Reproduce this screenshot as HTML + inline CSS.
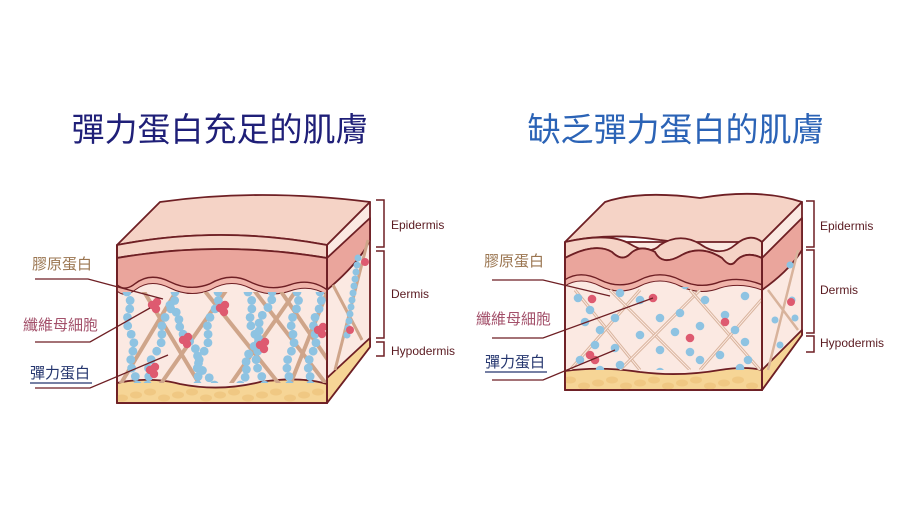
<!DOCTYPE html>
<html><head><meta charset="utf-8"><style>
html,body{margin:0;padding:0;background:#fff;}
svg{display:block;}
text{font-family:"Liberation Sans","Noto Sans CJK TC",sans-serif;}
</style></head><body>
<svg id="s" width="900" height="506" viewBox="0 0 900 506" xmlns="http://www.w3.org/2000/svg">
<rect width="900" height="506" fill="#fff"/>
<text x="220" y="141" font-size="33" fill="#1f1f78" text-anchor="middle" style="font-family:'Noto Sans CJK TC',sans-serif">彈力蛋白充足的肌膚</text>
<text x="676" y="141" font-size="33" fill="#2b63b6" text-anchor="middle" style="font-family:'Noto Sans CJK TC',sans-serif">缺乏彈力蛋白的肌膚</text>

<!-- LEFT BLOCK -->
<g stroke="#6e1f24" stroke-width="1.8" stroke-linejoin="round">
 <path d="M117 245 L160 202 Q260 188 370 202 L327 245 Q220 225 117 245Z" fill="#f5d3c6"/>
 <path d="M327 245 L370 202 L370 347 L327 403Z" fill="#fbe9e2"/>
 <path d="M327 258 L370 218 L370 240 Q360 262 327 290Z" fill="#eaa59c"/>
 <path d="M327 378 L370 338 L370 347 L327 403Z" fill="#f6d596"/>
 <rect x="117" y="245" width="210" height="158" fill="#fbe9e2"/>
 <path d="M117 245 Q220 225 327 245 L327 258 Q220 240 117 258Z" fill="#f5d3c6"/>
 <path d="M117 258 Q220 240 327 258 L327 290 Q310 278 290 285 Q270 292 250 282 Q230 272 210 284 Q190 292 170 282 Q150 272 135 284 Q125 292 117 285Z" fill="#eaa59c"/>
 <path d="M117 285 Q125 292 135 284 Q150 272 170 282 Q190 292 210 284 Q230 272 250 282 Q270 292 290 285 Q310 278 327 290 L327 295 Q310 284 290 291 Q270 298 250 288 Q230 278 210 290 Q190 298 170 288 Q150 278 135 290 Q125 298 117 291Z" fill="#f0b4aa" stroke-width="1"/>
 <path d="M117 383 Q150 376 180 384 Q220 392 260 382 Q300 376 327 384 L327 403 L117 403Z" fill="#f6d596"/>
</g>
<g id="Ldots"></g>
<g stroke="#6e1f24" stroke-width="1.8" fill="none"><path d="M117 245 L117 403 L327 403 L327 245"/></g>

<!-- RIGHT BLOCK -->
<g stroke="#6e1f24" stroke-width="1.8" stroke-linejoin="round">
 <path d="M565 242 L605 202 Q640 190 700 198 Q760 188 802 202 L762 242 Q700 245 660 240 Q610 232 565 242Z" fill="#f5d3c6"/>
 <path d="M762 242 L802 202 L802 335 L762 390Z" fill="#fbe9e2"/>
 <path d="M762 258 L802 218 L802 250 Q790 270 762 290Z" fill="#eaa59c"/>
 <path d="M762 370 L802 330 L802 335 L762 390Z" fill="#f6d596"/>
 <rect x="565" y="242" width="197" height="148" fill="#fbe9e2"/>
 <path d="M565 242 Q610 232 630 244 Q650 256 660 245 Q680 232 700 244 Q720 258 735 245 Q750 232 762 242 L762 258 Q745 250 735 262 Q730 268 722 258 Q700 244 680 256 Q662 266 655 252 Q640 244 630 254 Q622 262 612 252 Q595 242 565 258Z" fill="#f5d3c6"/>
 <path d="M565 258 Q595 242 612 252 Q622 262 630 254 Q640 244 655 252 Q662 266 680 256 Q700 244 722 258 Q730 268 735 262 Q745 250 762 258 L762 285 Q740 276 720 282 Q700 290 680 280 Q660 270 640 280 Q620 290 600 280 Q580 270 565 280Z" fill="#eaa59c"/>
 <path d="M565 280 Q580 270 600 280 Q620 290 640 280 Q660 270 680 280 Q700 290 720 282 Q740 276 762 285 L762 290 Q740 282 720 288 Q700 296 680 286 Q660 276 640 286 Q620 296 600 286 Q580 276 565 286Z" fill="#f0b4aa" stroke-width="1"/>
 <path d="M565 371 Q600 366 640 372 Q680 377 720 370 Q745 366 762 370 L762 390 L565 390Z" fill="#f6d596"/>
</g>
<g id="Rdots"></g>
<g stroke="#6e1f24" stroke-width="1.8" fill="none"><path d="M565 242 L565 390 L762 390 L762 242"/></g>

<!-- brackets -->
<g stroke="#6e1f24" stroke-width="1.5" fill="none">
 <path d="M376 200 H384 V247 H376"/><path d="M376 251 H384 V338 H376"/><path d="M376 342 H384 V356 H376"/>
 <path d="M806 201 H814 V247 H806"/><path d="M806 250 H814 V333 H806"/><path d="M806 336 H814 V352 H806"/>
</g>
<g font-size="12" fill="#5a1a20">
 <text x="391" y="229">Epidermis</text><text x="391" y="298">Dermis</text><text x="391" y="355">Hypodermis</text>
 <text x="820" y="230">Epidermis</text><text x="820" y="294">Dermis</text><text x="820" y="347">Hypodermis</text>
</g>

<g style="font-family:'Noto Sans CJK TC',sans-serif" font-size="15">
 <text x="32" y="269" fill="#9a7550">膠原蛋白</text>
 <text x="23" y="330" fill="#a3506a">纖維母細胞</text>
 <text x="30" y="378" fill="#24356e">彈力蛋白</text>
 <text x="484" y="266" fill="#9a7550">膠原蛋白</text>
 <text x="476" y="324" fill="#a3506a">纖維母細胞</text>
 <text x="485" y="367" fill="#24356e">彈力蛋白</text>
</g>
<g stroke="#6e1f24" stroke-width="1.3" fill="none">
 <path d="M35 279 H88 L163 299"/><path d="M35 342 H90 L150 308"/><path d="M35 388 H90 L168 355"/>
 <path d="M30 383 H92" stroke="#24356e"/>
 <path d="M492 280 H543 L610 296"/><path d="M492 338 H543 L653 298"/><path d="M492 380 H543 L615 350"/>
 <path d="M485 372 H547" stroke="#24356e"/>
</g>
</svg>
<script>
(function(){
var NS="http://www.w3.org/2000/svg";
var S=document.getElementById('s');
function el(p,t,a){var e=document.createElementNS(NS,t);for(var k in a)e.setAttribute(k,a[k]);p.appendChild(e);return e;}
function clip(id,x,y,w,h){var d=el(S,'clipPath',{id:id});el(d,'rect',{x:x,y:y,width:w,height:h});}
clip('cL',117,292,210,91);clip('cR',565,287,197,83);
clip('hL',117,386,210,17);clip('hR',565,373,197,17);
var L=el(document.getElementById('Ldots'),'g',{'clip-path':'url(#cL)'});
var R=el(document.getElementById('Rdots'),'g',{'clip-path':'url(#cR)'});
// hypodermis blobs
var HL=el(document.getElementById('Ldots'),'g',{'clip-path':'url(#hL)'});
for(var x=122;x<327;x+=14){el(HL,'ellipse',{cx:x,cy:392+(x%3)*3,rx:6,ry:3.5,fill:'#eec27a',opacity:0.7});}
var HR=el(document.getElementById('Rdots'),'g',{'clip-path':'url(#hR)'});
for(var x=570;x<762;x+=14){el(HR,'ellipse',{cx:x,cy:380+(x%3)*3,rx:6,ry:3.5,fill:'#eec27a',opacity:0.7});}
var fl=[[140,285,200,385],[180,285,120,385],[230,285,160,385],[200,285,280,385],[300,285,230,385],[250,285,327,385],[330,285,290,385],[280,290,345,385]];
fl.forEach(function(f){el(L,'line',{x1:f[0],y1:f[1],x2:f[2],y2:f[3],stroke:'#cfa58a','stroke-width':4});});
var ch=[[127,292,135,385],[175,292,145,385],[170,305,212,385],[218,292,195,385],[248,292,262,385],[272,292,240,385],[297,292,287,385],[320,292,308,385]];
ch.forEach(function(c){var n=Math.round(Math.hypot(c[2]-c[0],c[3]-c[1])/8.5);for(var i=0;i<=n;i++){var t=i/n;el(L,'circle',{cx:c[0]+(c[2]-c[0])*t+Math.sin(i*1.3)*2.5,cy:c[1]+(c[3]-c[1])*t,r:4.4,fill:'#8ec3e2'});}});
[[152,305],[220,308],[183,340],[260,345],[150,370],[318,330]].forEach(function(p){[[0,0],[5,-3],[4,4]].forEach(function(o){el(L,'circle',{cx:p[0]+o[0],cy:p[1]+o[1],r:4.2,fill:'#de5a70'});});});
var fr=[[575,290,640,370],[640,290,570,370],[610,290,690,370],[700,290,620,370],[690,290,760,370],[770,290,700,370]];
fr.forEach(function(f){el(R,'line',{x1:f[0],y1:f[1],x2:f[2],y2:f[3],stroke:'#d8b39c','stroke-width':3});el(R,'line',{x1:f[0],y1:f[1],x2:f[2],y2:f[3],stroke:'#fbe9e2','stroke-width':1});});
var bd=[[578,298],[620,293],[640,300],[685,285],[705,300],[745,296],[590,310],[615,318],[660,318],[680,313],[725,315],[735,330],[585,322],[600,330],[640,335],[675,332],[700,326],[745,342],[595,345],[615,348],[660,350],[690,352],[720,355],[748,360],[580,360],[620,365],[700,360],[740,368],[600,370],[660,372]];
bd.forEach(function(p){el(R,'circle',{cx:p[0],cy:p[1],r:4.3,fill:'#8ec3e2'});});
[[592,299],[653,298],[690,338],[590,355],[725,322],[595,360]].forEach(function(p){el(R,'circle',{cx:p[0],cy:p[1],r:4.3,fill:'#de5a70'});});
var sL=el(document.getElementById('Ldots'),'g',{});
el(sL,'line',{x1:335,y1:370,x2:368,y2:240,stroke:'#cfa58a','stroke-width':3});
el(sL,'line',{x1:333,y1:285,x2:362,y2:340,stroke:'#cfa58a','stroke-width':3});
for(var i=0;i<12;i++)el(sL,'circle',{cx:358-i*1,cy:258+i*7,r:3.5,fill:'#8ec3e2'});
[[350,330],[365,262]].forEach(function(p){el(sL,'circle',{cx:p[0],cy:p[1],r:4,fill:'#de5a70'});});
var sR=el(document.getElementById('Rdots'),'g',{});
el(sR,'line',{x1:768,y1:370,x2:798,y2:250,stroke:'#d8b39c','stroke-width':2.5});
el(sR,'line',{x1:768,y1:290,x2:798,y2:330,stroke:'#d8b39c','stroke-width':2.5});
[[792,300],[790,265],[775,320],[795,318],[780,345]].forEach(function(p){el(sR,'circle',{cx:p[0],cy:p[1],r:3.5,fill:'#8ec3e2'});});
el(sR,'circle',{cx:791,cy:302,r:4,fill:'#de5a70'});
})();
</script>
</body></html>
